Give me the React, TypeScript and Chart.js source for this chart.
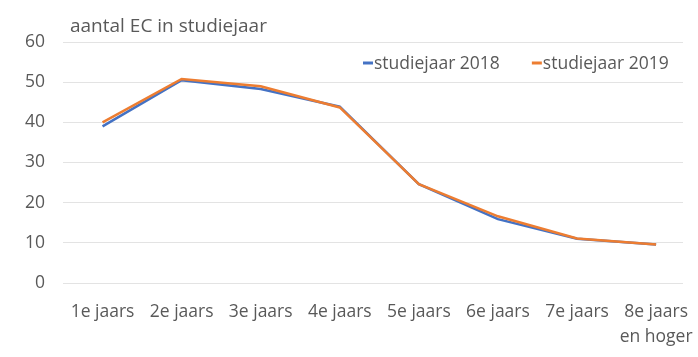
import React, { useEffect, useRef } from "react";
import { Chart, registerables } from "chart.js";

Chart.register(...registerables);

const chartTitle = "aantal EC in studiejaar";
const categories: (string | string[])[] = [
  "1e jaars",
  "2e jaars",
  "3e jaars",
  "4e jaars",
  "5e jaars",
  "6e jaars",
  "7e jaars",
  ["8e jaars", "en hoger"],
];
const seriesNames = ["studiejaar 2018", "studiejaar 2019"];
const series2018 = [39.0, 50.5, 48.3, 43.9, 24.6, 15.9, 11.0, 9.6];
const series2019 = [40.0, 50.8, 49.0, 43.7, 24.6, 16.6, 11.1, 9.6];
const yMin = 0;
const yMax = 60;
const yStep = 10;

const COLORS = ["#4472C4", "#ED7D31"];
const TEXT = "#595959";
const GRID = "#E3E3E3";
const FONT = "'Open Sans', 'Noto Sans', sans-serif";

const overlayPlugin = {
  id: "overlayText",
  afterDraw(chart: any) {
    const ctx = chart.ctx as CanvasRenderingContext2D;
    ctx.save();
    ctx.fillStyle = TEXT;
    ctx.textBaseline = "alphabetic";
    ctx.textAlign = "left";
    ctx.font = `19px ${FONT}`;
    ctx.fillText(chartTitle, 70, 32);

    ctx.font = `17.5px ${FONT}`;
    let x = 363;
    const yLine = 63;
    seriesNames.forEach((name, i) => {
      ctx.strokeStyle = COLORS[i];
      ctx.lineWidth = 3;
      ctx.beginPath();
      ctx.moveTo(x, yLine);
      ctx.lineTo(x + 10, yLine);
      ctx.stroke();
      ctx.fillStyle = TEXT;
      ctx.fillText(name, x + 11, 69);
      const w = ctx.measureText(name).width;
      x += 11 + w + 32;
    });
    ctx.restore();
  },
};

export default function App() {
  const ref = useRef<HTMLCanvasElement | null>(null);

  useEffect(() => {
    if (!ref.current) return;
    const mk = (vals: number[]) => vals.map((v, i) => ({ x: i, y: v }));
    const chart = new Chart(ref.current, {
      type: "line",
      data: {
        datasets: [
          {
            label: seriesNames[0],
            data: mk(series2018),
            borderColor: COLORS[0],
            backgroundColor: COLORS[0],
            borderWidth: 2.5,
            pointRadius: 0,
            tension: 0,
            order: 1,
          },
          {
            label: seriesNames[1],
            data: mk(series2019),
            borderColor: COLORS[1],
            backgroundColor: COLORS[1],
            borderWidth: 2.5,
            pointRadius: 0,
            tension: 0,
            order: 0,
          },
        ],
      },
      options: {
        animation: false,
        responsive: false,
        maintainAspectRatio: false,
        layout: { padding: { top: 42, right: 15, bottom: 0, left: 0 } },
        plugins: {
          legend: { display: false },
          title: { display: false },
          tooltip: { enabled: false },
        },
        scales: {
          x: {
            type: "linear",
            min: -0.5,
            max: 7.34,
            grid: { display: false, drawTicks: false },
            border: { display: false },
            afterBuildTicks: (scale: any) => {
              scale.ticks = categories.map((_, i) => ({ value: i }));
            },
            afterFit: (scale: any) => {
              scale.height = 74;
              scale.paddingLeft = 0;
              scale.paddingRight = 0;
            },
            ticks: {
              autoSkip: false,
              maxRotation: 0,
              padding: 17,
              color: TEXT,
              font: { family: FONT, size: 17.5, lineHeight: 1.4 },
              callback: (v: any) => categories[Math.round(Number(v))] as any,
            },
          },
          y: {
            min: yMin,
            max: yMax,
            grid: { color: GRID, lineWidth: 1, drawTicks: false },
            border: { display: false },
            afterFit: (scale: any) => {
              scale.width = 63;
            },
            ticks: {
              stepSize: yStep,
              padding: 18,
              color: TEXT,
              font: { family: FONT, size: 17.5 },
            },
          },
        },
      },
      plugins: [overlayPlugin],
    });
    return () => chart.destroy();
  }, []);

  return (
    <div style={{ position: "fixed", left: 0, top: 0, width: 698, height: 357, background: "#fff" }}>
      <canvas ref={ref} width={698} height={357} style={{ width: 698, height: 357 }} />
    </div>
  );
}
